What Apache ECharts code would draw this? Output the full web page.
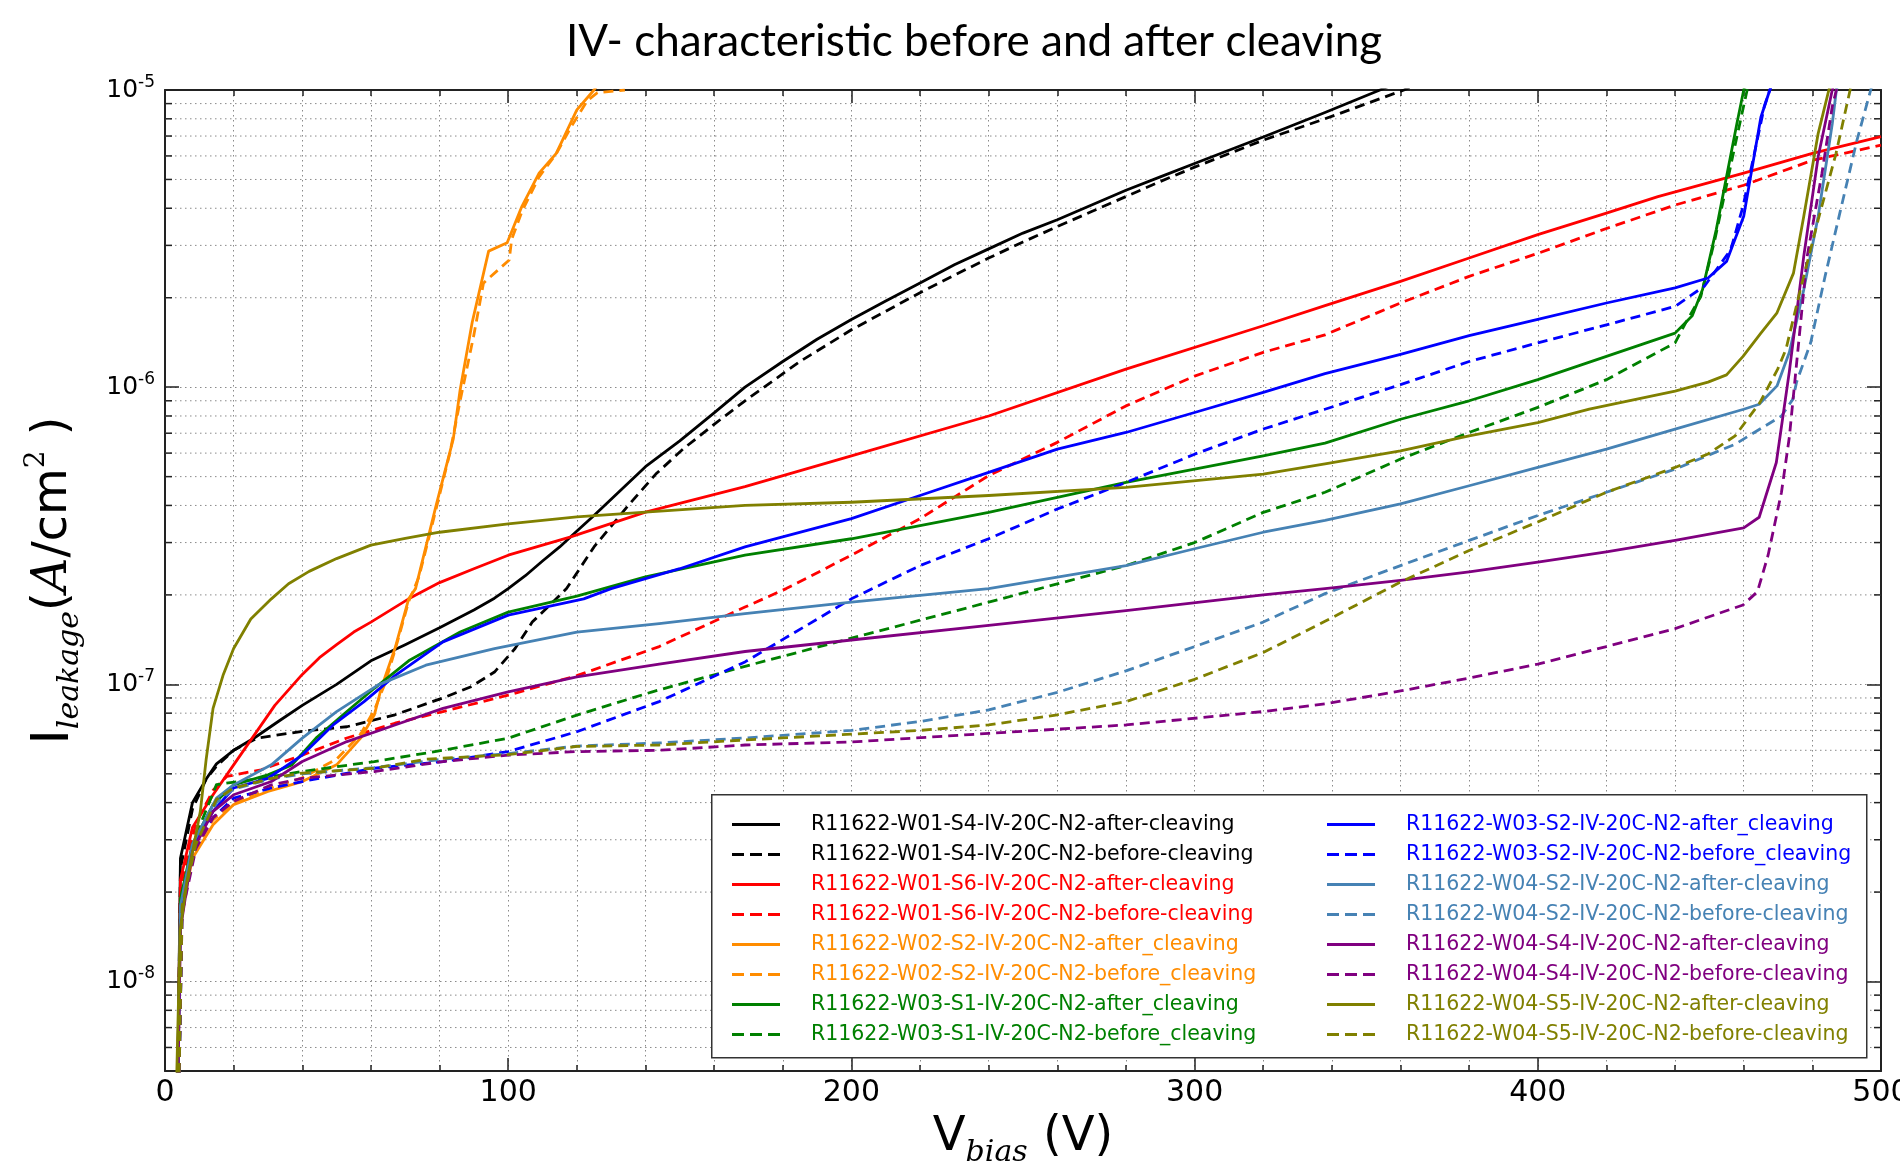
<!DOCTYPE html>
<html>
<head>
<meta charset="utf-8">
<script src="https://cdn.jsdelivr.net/npm/echarts@6/dist/echarts.min.js"></script>
<style>
html,body{margin:0;padding:0;background:#fff;}
#chart{width:1900px;height:1161px;}
</style>
</head>
<body>
<div id="chart"></div>
<script>
// ---------------- DATA ----------------
const titleText = 'IV- characteristic before and after cleaving';

const seriesNames = [
  'R11622-W01-S4-IV-20C-N2-after-cleaving',
  'R11622-W01-S4-IV-20C-N2-before-cleaving',
  'R11622-W01-S6-IV-20C-N2-after-cleaving',
  'R11622-W01-S6-IV-20C-N2-before-cleaving',
  'R11622-W02-S2-IV-20C-N2-after_cleaving',
  'R11622-W02-S2-IV-20C-N2-before_cleaving',
  'R11622-W03-S1-IV-20C-N2-after_cleaving',
  'R11622-W03-S1-IV-20C-N2-before_cleaving',
  'R11622-W03-S2-IV-20C-N2-after_cleaving',
  'R11622-W03-S2-IV-20C-N2-before_cleaving',
  'R11622-W04-S2-IV-20C-N2-after-cleaving',
  'R11622-W04-S2-IV-20C-N2-before-cleaving',
  'R11622-W04-S4-IV-20C-N2-after-cleaving',
  'R11622-W04-S4-IV-20C-N2-before-cleaving',
  'R11622-W04-S5-IV-20C-N2-after-cleaving',
  'R11622-W04-S5-IV-20C-N2-before-cleaving'
];

const seriesColors = [
  '#000000', '#000000', '#ff0000', '#ff0000',
  '#ff8c00', '#ff8c00', '#008000', '#008000',
  '#0000ff', '#0000ff', '#4682b4', '#4682b4',
  '#800080', '#800080', '#808000', '#808000'
];

const seriesDashed = [false, true, false, true, false, true, false, true,
                      false, true, false, true, false, true, false, true];

// [V (bias volts), I (A/cm^2)]
const w01s4After = [[3.5,3e-9],[4.5,2.6e-8],[8,4.0e-8],[12,4.8e-8],[15,5.4e-8],[20,6.0e-8],[26,6.6e-8],[33,7.5e-8],[40,8.5e-8],[50,1.0e-7],[60,1.2e-7],[70,1.36e-7],[80,1.55e-7],[90,1.78e-7],[96,1.95e-7],[100,2.1e-7],[105,2.32e-7],[110,2.6e-7],[115,2.9e-7],[119,3.2e-7],[125,3.7e-7],[130,4.2e-7],[140,5.4e-7],[150,6.6e-7],[160,8.2e-7],[169,1.0e-6],[180,1.22e-6],[190,1.45e-6],[200,1.69e-6],[210,1.95e-6],[220,2.24e-6],[230,2.58e-6],[240,2.92e-6],[250,3.3e-6],[260,3.66e-6],[270,4.1e-6],[280,4.6e-6],[290,5.1e-6],[300,5.66e-6],[320,6.95e-6],[338,8.4e-6],[354,1.0e-5],[360,1.07e-5]];
const w01s4Before = [[3.5,3e-9],[4.5,2.4e-8],[8,3.8e-8],[12,4.8e-8],[15,5.3e-8],[20,6.0e-8],[27,6.6e-8],[40,6.95e-8],[53,7.2e-8],[67,7.9e-8],[81,9.0e-8],[89,9.8e-8],[96,1.1e-7],[102,1.32e-7],[107,1.62e-7],[114,1.94e-7],[117,2.1e-7],[125,2.9e-7],[135,4.0e-7],[143,5.1e-7],[151,6.2e-7],[160,7.5e-7],[169,9.0e-7],[185,1.22e-6],[200,1.56e-6],[210,1.8e-6],[220,2.08e-6],[230,2.38e-6],[240,2.72e-6],[250,3.08e-6],[260,3.47e-6],[270,3.9e-6],[280,4.38e-6],[290,4.92e-6],[300,5.5e-6],[320,6.78e-6],[338,8.0e-6],[361,1.0e-5],[365,1.05e-5]];
const w01s6After = [[3.5,3e-9],[4.5,2.2e-8],[8,3.3e-8],[14,4.25e-8],[20,5.36e-8],[26,6.75e-8],[32,8.5e-8],[40,1.08e-7],[45,1.23e-7],[50,1.36e-7],[55,1.5e-7],[60,1.62e-7],[71,1.94e-7],[80,2.2e-7],[90,2.45e-7],[100,2.72e-7],[118,3.13e-7],[140,3.8e-7],[169,4.63e-7],[200,5.87e-7],[240,8.0e-7],[280,1.15e-6],[320,1.61e-6],[338,1.88e-6],[360,2.27e-6],[380,2.72e-6],[400,3.26e-6],[420,3.85e-6],[435,4.38e-6],[460,5.25e-6],[480,6.12e-6],[500,6.97e-6]];
const w01s6Before = [[3.8,3e-9],[5,2.2e-8],[9,3.4e-8],[14,4.4e-8],[18,4.9e-8],[28,5.16e-8],[40,5.78e-8],[53,6.6e-8],[67,7.4e-8],[81,8.1e-8],[100,9.2e-8],[120,1.07e-7],[144,1.34e-7],[169,1.82e-7],[181,2.1e-7],[200,2.72e-7],[220,3.61e-7],[240,5.04e-7],[260,6.52e-7],[280,8.65e-7],[300,1.09e-6],[320,1.31e-6],[338,1.5e-6],[360,1.92e-6],[380,2.36e-6],[400,2.82e-6],[420,3.42e-6],[440,4.1e-6],[460,4.78e-6],[480,5.8e-6],[500,6.52e-6]];
const w02s2After = [[3.5,3e-9],[4.5,1.64e-8],[8,2.6e-8],[14,3.37e-8],[20,3.94e-8],[30,4.36e-8],[40,4.71e-8],[50,5.36e-8],[57,6.59e-8],[61,7.9e-8],[63,9.7e-8],[67,1.32e-7],[71,1.94e-7],[73,2.1e-7],[79,4.0e-7],[84,6.7e-7],[86,9.8e-7],[89.5,1.65e-6],[94.3,2.87e-6],[99.7,3.06e-6],[104,4.06e-6],[109,5.25e-6],[114,6.12e-6],[120,8.57e-6],[125,1.0e-5],[130,1.2e-5]];
const w02s2Before = [[3.5,3e-9],[4.5,1.7e-8],[8,2.7e-8],[14,3.5e-8],[20,4.0e-8],[30,4.45e-8],[40,4.85e-8],[50,5.6e-8],[57,6.8e-8],[61,8.2e-8],[64,1.0e-7],[67,1.3e-7],[71,1.9e-7],[74,2.3e-7],[78,3.5e-7],[83,6.0e-7],[86,9.0e-7],[90,1.5e-6],[92.8,2.24e-6],[100.3,2.68e-6],[101,3.14e-6],[104,3.9e-6],[109,5.1e-6],[114,6.1e-6],[118,7.4e-6],[123,9.2e-6],[126,9.8e-6],[134,1.0e-5]];
const w03s1After = [[3.5,3e-9],[4.5,1.9e-8],[8,2.9e-8],[14,3.94e-8],[20,4.59e-8],[30,4.96e-8],[37,5.36e-8],[44,6.59e-8],[53,8.1e-8],[61,9.7e-8],[71,1.2e-7],[86,1.5e-7],[100,1.75e-7],[120,1.98e-7],[140,2.3e-7],[169,2.72e-7],[200,3.09e-7],[240,3.79e-7],[280,4.78e-7],[320,5.87e-7],[338,6.48e-7],[360,7.8e-7],[380,9.0e-7],[400,1.06e-6],[420,1.27e-6],[440,1.52e-6],[445,1.74e-6],[448,2.13e-6],[452,3.39e-6],[455,5.12e-6],[458,7.7e-6],[460,1.0e-5],[461,1.1e-5]];
const w03s1Before = [[3.8,3e-9],[5,2.0e-8],[9,3.1e-8],[15,4.6e-8],[28,4.83e-8],[40,5.09e-8],[61,5.5e-8],[81,6.0e-8],[100,6.59e-8],[120,7.88e-8],[142,9.44e-8],[169,1.15e-7],[200,1.43e-7],[240,1.89e-7],[280,2.51e-7],[300,3.0e-7],[320,3.79e-7],[338,4.43e-7],[360,5.73e-7],[380,7.04e-7],[400,8.55e-7],[420,1.06e-6],[440,1.41e-6],[443,1.64e-6],[447.5,2.02e-6],[451.6,3.14e-6],[454.7,4.61e-6],[457.8,6.78e-6],[461,1.0e-5],[462,1.1e-5]];
const w03s2After = [[3.5,3e-9],[4.5,1.7e-8],[8,2.8e-8],[14,3.74e-8],[20,4.48e-8],[30,4.83e-8],[40,5.78e-8],[49,7.3e-8],[58,8.75e-8],[67,1.07e-7],[81,1.39e-7],[100,1.71e-7],[122,1.94e-7],[130,2.1e-7],[150,2.45e-7],[169,2.9e-7],[200,3.61e-7],[220,4.32e-7],[240,5.17e-7],[260,6.19e-7],[280,7.04e-7],[300,8.22e-7],[320,9.6e-7],[338,1.11e-6],[360,1.29e-6],[380,1.49e-6],[400,1.69e-6],[420,1.92e-6],[440,2.16e-6],[449.6,2.33e-6],[455,2.65e-6],[460,3.76e-6],[463,5.96e-6],[465,8.1e-6],[467.6,1.0e-5],[469,1.1e-5]];
const w03s2Before = [[3.8,3e-9],[5,1.8e-8],[9,2.9e-8],[14,3.56e-8],[20,4.14e-8],[31,4.48e-8],[40,4.71e-8],[61,5.22e-8],[81,5.5e-8],[100,5.94e-8],[120,6.93e-8],[144,8.75e-8],[169,1.19e-7],[200,1.94e-7],[220,2.51e-7],[240,3.09e-7],[260,3.89e-7],[280,4.78e-7],[300,5.95e-7],[320,7.23e-7],[338,8.43e-7],[360,1.02e-6],[380,1.22e-6],[400,1.41e-6],[420,1.62e-6],[440,1.87e-6],[448.6,2.19e-6],[456.2,2.9e-6],[459.8,4.06e-6],[462.9,5.96e-6],[466,8.8e-6],[467.6,1.0e-5],[469,1.1e-5]];
const w04s2After = [[3.5,3e-9],[4.5,1.8e-8],[8,2.9e-8],[15,4.14e-8],[20,4.59e-8],[31,5.36e-8],[40,6.59e-8],[50,8.1e-8],[62,9.94e-8],[76,1.16e-7],[96,1.32e-7],[120,1.5e-7],[144,1.6e-7],[169,1.73e-7],[200,1.89e-7],[240,2.1e-7],[280,2.51e-7],[300,2.86e-7],[320,3.25e-7],[338,3.56e-7],[360,4.05e-7],[380,4.66e-7],[400,5.37e-7],[420,6.19e-7],[440,7.23e-7],[460,8.43e-7],[464.5,8.76e-7],[469.7,1.01e-6],[473.3,1.31e-6],[477.5,2.13e-6],[481.7,3.76e-6],[485.8,7.7e-6],[487,1.0e-5],[488,1.1e-5]];
const w04s2Before = [[3.8,3e-9],[5,1.8e-8],[9,2.9e-8],[15,4.0e-8],[20,4.45e-8],[31,4.8e-8],[40,5.0e-8],[61,5.25e-8],[81,5.6e-8],[100,5.85e-8],[120,6.2e-8],[144,6.35e-8],[169,6.6e-8],[200,7.0e-8],[220,7.5e-8],[240,8.2e-8],[260,9.4e-8],[280,1.11e-7],[300,1.34e-7],[320,1.62e-7],[338,2.02e-7],[360,2.51e-7],[380,3.05e-7],[400,3.7e-7],[420,4.43e-7],[440,5.3e-7],[457.5,6.43e-7],[471,8.0e-7],[474.3,9.1e-7],[475.4,1.04e-6],[479.5,1.41e-6],[483.7,2.36e-6],[488,3.85e-6],[493,6.78e-6],[496.2,9.25e-6],[497,1.0e-5],[498,1.1e-5]];
const w04s4After = [[3.5,3e-9],[4.5,1.5e-8],[8,2.74e-8],[14,3.74e-8],[20,4.25e-8],[31,4.71e-8],[40,5.5e-8],[53,6.42e-8],[67,7.3e-8],[81,8.3e-8],[100,9.44e-8],[120,1.06e-7],[144,1.17e-7],[169,1.29e-7],[200,1.41e-7],[240,1.58e-7],[280,1.77e-7],[320,2.0e-7],[338,2.1e-7],[360,2.24e-7],[380,2.39e-7],[400,2.58e-7],[420,2.79e-7],[440,3.05e-7],[460,3.36e-7],[464.5,3.65e-7],[469.5,5.58e-7],[473.3,1.13e-6],[477.5,2.76e-6],[481.7,5.97e-6],[485.8,1.0e-5],[487,1.1e-5]];
const w04s4Before = [[3.8,3e-9],[5,1.7e-8],[9,2.8e-8],[14,3.56e-8],[20,4.04e-8],[31,4.59e-8],[40,4.83e-8],[61,5.09e-8],[81,5.5e-8],[100,5.78e-8],[120,5.94e-8],[144,6.0e-8],[169,6.25e-8],[200,6.4e-8],[240,6.84e-8],[280,7.3e-8],[320,8.1e-8],[338,8.6e-8],[360,9.5e-8],[380,1.05e-7],[400,1.17e-7],[420,1.34e-7],[440,1.54e-7],[459.8,1.85e-7],[464,2.05e-7],[467.1,2.72e-7],[471,4.43e-7],[473.3,6.8e-7],[475.4,1.2e-6],[478.5,2.76e-6],[482.8,5.25e-6],[485.8,8.8e-6],[487,1.0e-5],[488,1.1e-5]];
const w04s5After = [[3,3e-9],[4.4,1.48e-8],[6.4,2.18e-8],[10.3,3.74e-8],[12,5.6e-8],[14,8.3e-8],[17,1.08e-7],[20,1.32e-7],[25,1.66e-7],[31,1.94e-7],[36,2.18e-7],[42,2.4e-7],[50,2.65e-7],[60,2.94e-7],[70,3.1e-7],[80,3.25e-7],[100,3.47e-7],[120,3.66e-7],[140,3.8e-7],[169,4.0e-7],[200,4.1e-7],[240,4.32e-7],[280,4.6e-7],[320,5.1e-7],[338,5.52e-7],[360,6.1e-7],[380,6.86e-7],[400,7.6e-7],[415,8.43e-7],[440,9.7e-7],[449.6,1.04e-6],[455,1.1e-6],[459.8,1.27e-6],[465,1.52e-6],[469.7,1.78e-6],[474.5,2.42e-6],[477.5,3.76e-6],[481.7,7.15e-6],[484.8,1.0e-5],[486,1.1e-5]];
const w04s5Before = [[3.8,3e-9],[5,1.8e-8],[9,2.9e-8],[15,4.1e-8],[20,4.48e-8],[31,4.83e-8],[40,5.03e-8],[61,5.22e-8],[76,5.6e-8],[100,5.8e-8],[120,6.18e-8],[144,6.25e-8],[169,6.5e-8],[200,6.8e-8],[220,7.0e-8],[240,7.3e-8],[260,7.9e-8],[280,8.75e-8],[300,1.04e-7],[320,1.28e-7],[338,1.63e-7],[360,2.21e-7],[380,2.82e-7],[400,3.52e-7],[420,4.43e-7],[440,5.37e-7],[449.6,5.96e-7],[457.5,6.86e-7],[464.7,8.87e-7],[469.9,1.15e-6],[472.3,1.34e-6],[476.5,2.13e-6],[481.7,3.66e-6],[486.9,6.12e-6],[491,1.0e-5],[492,1.1e-5]];

const seriesData = [w01s4After, w01s4Before, w01s6After, w01s6Before,
                    w02s2After, w02s2Before, w03s1After, w03s1Before,
                    w03s2After, w03s2Before, w04s2After, w04s2Before,
                    w04s4After, w04s4Before, w04s5After, w04s5Before];

// axis ranges / ticks
const xMin = 0, xMax = 500, xStep = 100;
const yMin = 5e-9, yMax = 1e-5;
const yMinorTicks = [6e-9,7e-9,8e-9,9e-9,
  2e-8,3e-8,4e-8,5e-8,6e-8,7e-8,8e-8,9e-8,
  2e-7,3e-7,4e-7,5e-7,6e-7,7e-7,8e-7,9e-7,
  2e-6,3e-6,4e-6,5e-6,6e-6,7e-6,8e-6,9e-6];

// legend icon shapes (solid bar / three dashes)
const iconSolid = 'path://M0,0h48v3h-48z';
const iconDashed = 'path://M0,0h12v3h-12z M18,0h12v3h-12z M36,0h12v3h-12z';

// ---------------- CHART ----------------
const chart = echarts.init(document.getElementById('chart'), null, {renderer: 'canvas'});

const gridDash = [1.5, 3.5];
const gridColor = '#8a8a8a';
const frameColor = '#222';

const lineSeries = seriesNames.map((name, i) => ({
  name: name,
  type: 'line',
  xAxisIndex: 0,
  yAxisIndex: 0,
  data: seriesData[i],
  showSymbol: false,
  symbol: 'none',
  smooth: false,
  clip: true,
  z: 3,
  lineStyle: {color: seriesColors[i], width: 2.8, type: seriesDashed[i] ? [10, 6] : 'solid', join: 'round'},
  itemStyle: {color: seriesColors[i]},
  emphasis: {disabled: true},
  animation: false
}));

const minorSeries = {
  type: 'custom',
  name: 'minorGrid',
  xAxisIndex: 0,
  yAxisIndex: 0,
  silent: true,
  z: 1,
  animation: false,
  data: yMinorTicks.map(v => [xMin, v]),
  renderItem: function (params, api) {
    const cs = params.coordSys;
    const y = api.coord([xMin, api.value(1)])[1];
    return {
      type: 'group',
      children: [
        {type: 'line', shape: {x1: cs.x, y1: y, x2: cs.x + cs.width, y2: y},
         style: {stroke: gridColor, lineWidth: 1, lineDash: gridDash}},
        {type: 'line', shape: {x1: cs.x, y1: y, x2: cs.x + 7, y2: y},
         style: {stroke: frameColor, lineWidth: 1.5}},
        {type: 'line', shape: {x1: cs.x + cs.width - 7, y1: y, x2: cs.x + cs.width, y2: y},
         style: {stroke: frameColor, lineWidth: 1.5}}
      ]
    };
  }
};

function legendData(from, to) {
  return seriesNames.slice(from, to).map((n, k) => ({
    name: n,
    icon: seriesDashed[from + k] ? iconDashed : iconSolid,
    itemStyle: {color: seriesColors[from + k]},
    textStyle: {color: seriesColors[from + k]}
  }));
}

const legendCommon = {
  orient: 'vertical',
  top: 814,
  itemWidth: 48,
  itemHeight: 3,
  itemGap: 9,
  padding: 0,
  selectedMode: false,
  z: 100,
  textStyle: {fontSize: 20.5, fontFamily: 'DejaVu Sans', lineHeight: 20, padding: [0, 0, 0, 26]}
};

const option = {
  backgroundColor: '#ffffff',
  animation: false,
  title: {
    text: titleText,
    left: 969,
    top: 15,
    textAlign: 'center',
    textStyle: {fontSize: 44, fontFamily: 'Lato', fontWeight: 'normal', color: '#000'}
  },
  grid: {left: 165, right: 19, top: 90, bottom: 90, containLabel: false, outerBoundsMode: 'none'},
  legend: [
    Object.assign({}, legendCommon, {left: 732, data: legendData(0, 8)}),
    Object.assign({}, legendCommon, {left: 1327, data: legendData(8, 16)})
  ],
  graphic: [{
    type: 'rect',
    left: 711, top: 794,
    z: 50,
    shape: {width: 1155, height: 263},
    style: {fill: '#ffffff', stroke: '#333', lineWidth: 1.5}
  }],
  xAxis: [{
    type: 'value', position: 'bottom',
    min: xMin, max: xMax, interval: xStep,
    name: '{v|V}{sub|bias}{v| (V)}',
    nameLocation: 'middle', nameGap: 37,
    nameTextStyle: {
      rich: {
        v: {fontSize: 48, fontFamily: 'DejaVu Sans', color: '#000', lineHeight: 60},
        sub: {fontSize: 30, fontFamily: 'DejaVu Serif', fontStyle: 'italic', color: '#000', verticalAlign: 'bottom', lineHeight: 30}
      }
    },
    axisLine: {show: true, onZero: false, lineStyle: {color: frameColor, width: 2}},
    axisTick: {show: true, inside: true, length: 13, lineStyle: {color: frameColor, width: 1.5}},
    minorTick: {show: true, splitNumber: 5, length: 6, lineStyle: {color: frameColor, width: 1.5}},
    axisLabel: {fontSize: 30, fontFamily: 'DejaVu Sans', color: '#000', margin: 7},
    splitLine: {show: true, lineStyle: {color: gridColor, width: 1, type: gridDash}},
    minorSplitLine: {show: true, lineStyle: {color: gridColor, width: 1, type: gridDash}}
  }, {
    type: 'value', position: 'top',
    min: xMin, max: xMax, interval: xStep,
    axisLine: {show: true, onZero: false, lineStyle: {color: frameColor, width: 2}},
    axisTick: {show: true, inside: true, length: 13, lineStyle: {color: frameColor, width: 1.5}},
    minorTick: {show: true, splitNumber: 5, length: 6, lineStyle: {color: frameColor, width: 1.5}},
    axisLabel: {show: false},
    splitLine: {show: false}
  }],
  yAxis: [{
    type: 'log', logBase: 10, position: 'left',
    min: yMin, max: yMax,
    name: '{i|I}{sub|leakage}{p|(}{it|A}{p|/cm}{sup|2}{p| )}',
    nameLocation: 'middle', nameRotate: 90, nameGap: 80,
    nameTextStyle: {
      rich: {
        i: {fontSize: 52, fontFamily: 'DejaVu Sans', color: '#000', lineHeight: 62},
        sub: {fontSize: 30, fontFamily: 'DejaVu Serif', fontStyle: 'italic', color: '#000', verticalAlign: 'bottom', lineHeight: 30},
        p: {fontSize: 48, fontFamily: 'DejaVu Sans', color: '#000', lineHeight: 62},
        it: {fontSize: 48, fontFamily: 'DejaVu Serif', fontStyle: 'italic', color: '#000', lineHeight: 62},
        sup: {fontSize: 28, fontFamily: 'DejaVu Serif', color: '#000', verticalAlign: 'top', lineHeight: 28}
      }
    },
    axisLine: {show: true, onZero: false, lineStyle: {color: frameColor, width: 2}},
    axisTick: {show: true, inside: true, length: 14, lineStyle: {color: frameColor, width: 1.5}},
    axisLabel: {
      margin: 10,
      formatter: function (v) {
        const lg = Math.log10(v);
        const e = Math.round(lg);
        if (Math.abs(lg - e) > 1e-6) return '';
        return '{b|10}{s|' + e + '}';
      },
      rich: {
        b: {fontSize: 25, fontFamily: 'DejaVu Sans', color: '#000', lineHeight: 32},
        s: {fontSize: 17, fontFamily: 'DejaVu Sans', color: '#000', verticalAlign: 'top', lineHeight: 17}
      }
    },
    splitLine: {show: true, lineStyle: {color: gridColor, width: 1, type: gridDash}}
  }, {
    type: 'log', logBase: 10, position: 'right',
    min: yMin, max: yMax,
    axisLine: {show: true, onZero: false, lineStyle: {color: frameColor, width: 2}},
    axisTick: {show: true, inside: true, length: 14, lineStyle: {color: frameColor, width: 1.5}},
    axisLabel: {show: false},
    splitLine: {show: false}
  }],
  series: lineSeries.concat([minorSeries])
};

chart.setOption(option);
</script>
</body>
</html>
